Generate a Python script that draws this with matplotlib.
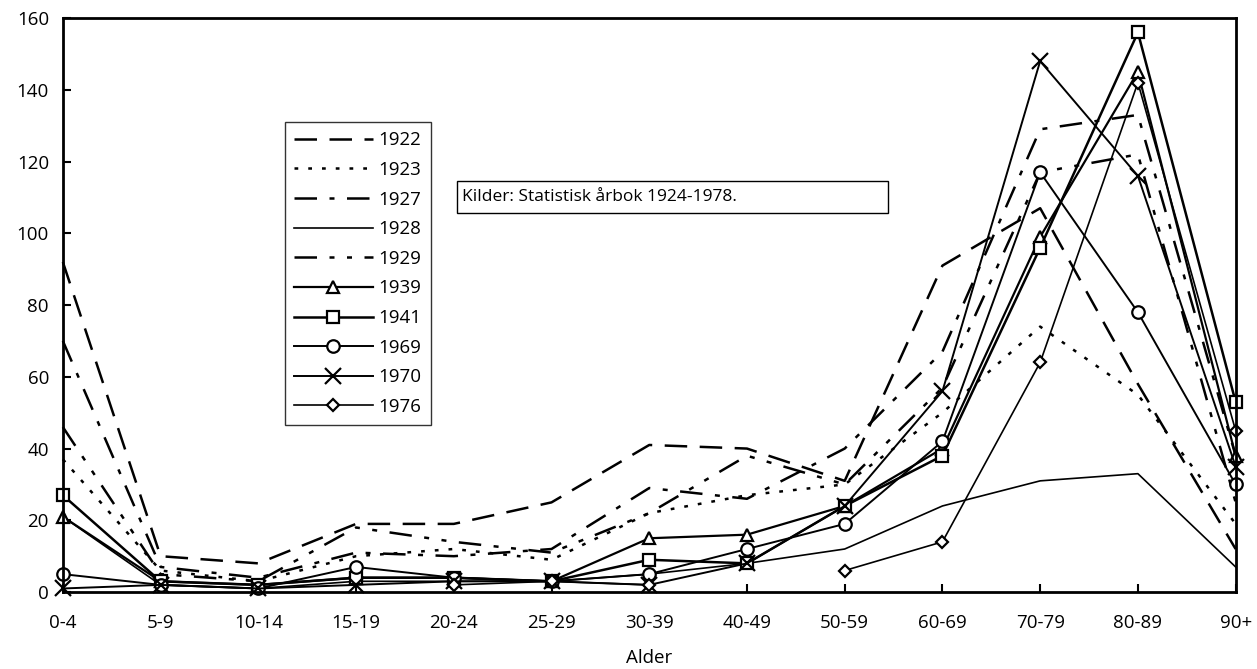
import numpy as np
import matplotlib
matplotlib.use("Agg")
import matplotlib.pyplot as plt
from matplotlib.patches import Rectangle

plt.rcParams['font.family'] = ['Open Sans', 'DejaVu Sans']

# Age groups
categories = ['0-4', '5-9', '10-14', '15-19', '20-24', '25-29', '30-39',
              '40-49', '50-59', '60-69', '70-79', '80-89', '90+']

nan = np.nan
y1922 = [92, 10, 8, 19, 19, 25, 41, 40, 31, 91, 107, 58, 12]
y1923 = [37, 6, 3, 10, 12, 9, 22, 27, 30, 50, 74, 55, 19]
y1927 = [70, 7, 4, 11, 10, 12, 29, 26, 40, 67, 129, 133, 38]
y1928 = [21, 2, 1, 3, 3, 3, 5, 8, 12, 24, 31, 33, 7]
y1929 = [46, 5, 3, 18, 14, 11, 22, 38, 30, 57, 117, 122, 25]
y1939 = [21, 3, 2, 4, 4, 3, 15, 16, 24, 40, 99, 145, 38]
y1941 = [27, 3, 2, 4, 4, 3, 9, 8, 24, 38, 96, 156, 53]
y1969 = [5, 2, 1, 7, 4, 3, 5, 12, 19, 42, 117, 78, 30]
y1970 = [1, 2, 1, 2, 3, 3, 2, 8, 24, 56, 148, 116, 35]
y1976 = [nan, nan, nan, nan, 2, 3, 2, nan, 6, 14, 64, 142, 45]

years = ['1922', '1923', '1927', '1928', '1929', '1939', '1941', '1969', '1970', '1976']
series = [y1922, y1923, y1927, y1928, y1929, y1939, y1941, y1969, y1970, y1976]

# line style per series: (dashes, marker, linewidth)
styles = [
    ((9, 5), None, 1.8),
    ((1.5, 4), None, 1.8),
    ((9, 5, 2, 5), None, 1.8),
    (None, None, 1.2),
    ((9, 5, 2, 5, 2, 5), None, 1.8),
    (None, '^', 1.6),
    (None, 's', 1.8),
    (None, 'o', 1.4),
    (None, 'x', 1.4),
    (None, 'D', 1.2),
]

fig = plt.figure(figsize=(12.57, 6.69), dpi=100)
ax = fig.add_axes([0.050, 0.115, 0.933, 0.858])

x = np.arange(len(categories))
for year, vals, (dashes, marker, lw) in zip(years, series, styles):
    kw = dict(color='black', linewidth=lw, label=year, clip_on=False)
    if dashes is not None:
        kw['dashes'] = dashes
    if marker is not None:
        kw.update(marker=marker, markersize=9 if marker != 'D' else 6.5,
                  markerfacecolor='white', markeredgecolor='black',
                  markeredgewidth=1.6)
        if marker == 'x':
            kw.update(markersize=11, markeredgewidth=1.6)
    ax.plot(x, vals, **kw)

ax.set_xlim(0, len(categories) - 1)
ax.set_ylim(0, 160)
ax.set_xticks(x)
ax.set_xticklabels(categories)
ax.set_yticks(np.arange(0, 161, 20))
ax.tick_params(direction='in', length=6, width=1.5, labelsize=13.5)
ax.tick_params(axis='x', pad=16)
ax.tick_params(axis='y', pad=10)
for s in ax.spines.values():
    s.set_linewidth(2)
ax.set_xlabel('Alder', fontsize=13.5, labelpad=12)

leg = ax.legend(loc='upper left', bbox_to_anchor=(0.189, 0.819),
                frameon=True, fancybox=False, edgecolor='black',
                fontsize=13.5, handlelength=4.2, labelspacing=0.62,
                borderpad=0.5, handletextpad=0.3, borderaxespad=0)
leg.get_frame().set_linewidth(1.0)

# source box
ax.add_patch(Rectangle((0.336, 0.660), 0.368, 0.056, transform=ax.transAxes,
                       fill=False, edgecolor='black', linewidth=1.0, zorder=5))
ax.text(0.340, 0.688, 'Kilder: Statistisk årbok 1924-1978.', transform=ax.transAxes,
        fontsize=12.5, va='center', ha='left')

fig.savefig('out.png', dpi=100)
